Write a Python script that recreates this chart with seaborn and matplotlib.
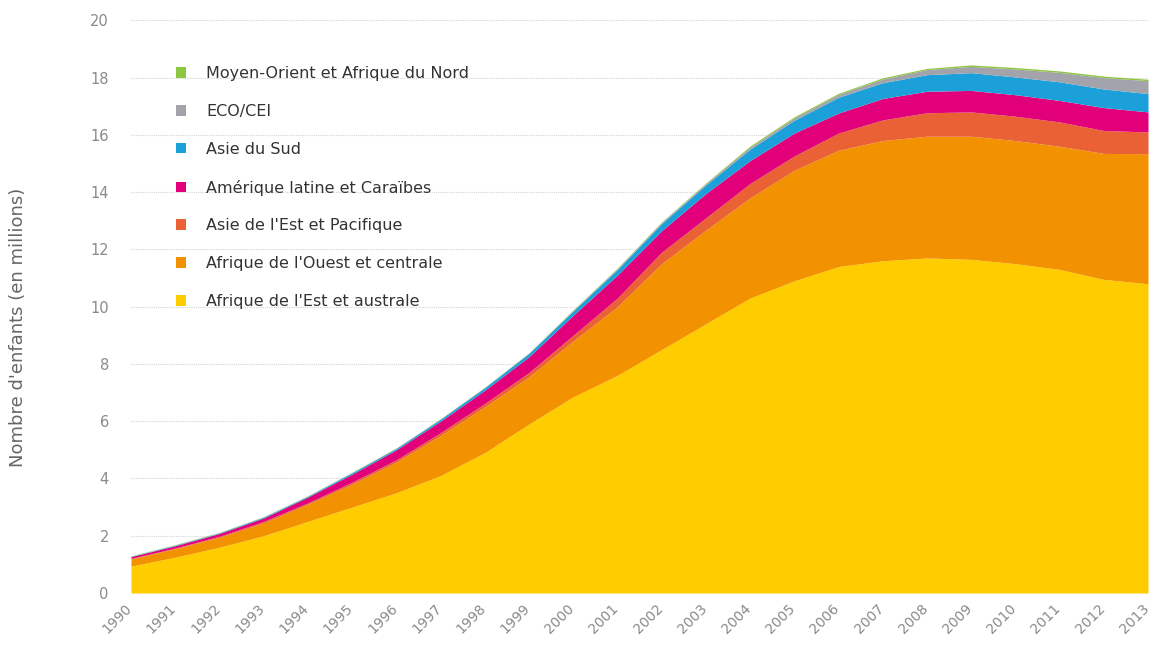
import matplotlib
matplotlib.use("Agg")
import matplotlib.pyplot as plt
import matplotlib.transforms as mtransforms
from matplotlib.patches import Patch
import seaborn as sns
import pandas as pd

years = list(range(1990, 2014))

est_australe = [0.94, 1.25, 1.6, 2.0, 2.5, 3.0, 3.5, 4.1, 4.9, 5.9, 6.85, 7.6,
                8.5, 9.4, 10.3, 10.9, 11.4, 11.6, 11.7, 11.65, 11.5, 11.3, 10.95, 10.8]
ouest_centrale = [0.25, 0.30, 0.35, 0.45, 0.6, 0.8, 1.07, 1.4, 1.6, 1.65, 1.95, 2.4,
                  3.0, 3.27, 3.5, 3.86, 4.06, 4.2, 4.25, 4.3, 4.3, 4.3, 4.4, 4.54]
asie_est = [0.02, 0.02, 0.03, 0.05, 0.05, 0.07, 0.08, 0.1, 0.12, 0.15, 0.2, 0.3,
            0.4, 0.43, 0.5, 0.5, 0.6, 0.72, 0.82, 0.85, 0.85, 0.85, 0.8, 0.76]
amerique_latine = [0.06, 0.08, 0.1, 0.12, 0.2, 0.28, 0.35, 0.4, 0.46, 0.55, 0.7, 0.8,
                   0.75, 0.85, 0.8, 0.8, 0.7, 0.75, 0.75, 0.75, 0.75, 0.75, 0.8, 0.7]
asie_sud = [0.01, 0.02, 0.02, 0.03, 0.03, 0.05, 0.05, 0.07, 0.09, 0.12, 0.15, 0.2,
            0.25, 0.3, 0.4, 0.45, 0.55, 0.55, 0.58, 0.62, 0.62, 0.65, 0.65, 0.64]
eco_cei = [0.01, 0.01, 0.01, 0.01, 0.01, 0.01, 0.01, 0.01, 0.01, 0.01, 0.02, 0.03,
           0.04, 0.05, 0.07, 0.08, 0.1, 0.13, 0.18, 0.22, 0.28, 0.33, 0.4, 0.45]
moyen_orient = [0.01, 0.01, 0.01, 0.01, 0.01, 0.01, 0.01, 0.01, 0.01, 0.01, 0.02, 0.02,
                0.02, 0.02, 0.04, 0.04, 0.04, 0.04, 0.04, 0.05, 0.05, 0.05, 0.05, 0.05]

labels = ["Afrique de l'Est et australe", "Afrique de l'Ouest et centrale",
          "Asie de l'Est et Pacifique", "Amérique latine et Caraïbes",
          "Asie du Sud", "ECO/CEI", "Moyen-Orient et Afrique du Nord"]
colors = ["#FFCC00", "#F39200", "#EA6135", "#E2007A", "#1CA0DA", "#A3A3AB", "#8DC63F"]

yticks = list(range(0, 21, 2))

df = pd.DataFrame({"year": years,
                   labels[0]: est_australe, labels[1]: ouest_centrale,
                   labels[2]: asie_est, labels[3]: amerique_latine,
                   labels[4]: asie_sud, labels[5]: eco_cei, labels[6]: moyen_orient})

sns.set_theme(style="white")
plt.rcParams['font.family'] = ['DejaVu Sans']

fig = plt.figure(figsize=(11.51, 6.45), dpi=100)
ax = fig.add_axes([0.1138, 0.0806, 0.8836, 0.888])

ax.stackplot(df["year"], [df[l] for l in labels], colors=colors, linewidth=0)

ax.set_xlim(1990, 2013)
ax.set_ylim(0, 20)
ax.set_yticks(yticks)
ax.set_yticklabels([str(t) for t in yticks])
ax.set_xticks(years)
ax.set_xticklabels([str(y) for y in years], rotation=45, ha="right", va="top",
                   rotation_mode="anchor")
ax.tick_params(axis="y", colors="#8a8a8a", labelsize=10.5, length=0, pad=16)
ax.tick_params(axis="x", colors="#8a8a8a", labelsize=10, length=0, pad=6)
offset = mtransforms.ScaledTranslation(-6 / 100, 0, fig.dpi_scale_trans)
for lab in ax.get_xticklabels():
    lab.set_transform(lab.get_transform() + offset)
for s in ax.spines.values():
    s.set_visible(False)
ax.grid(axis="y", color="#d4d4d4", linestyle=(0, (1, 1)), linewidth=0.8)
ax.set_axisbelow(True)

ax.set_ylabel("Nombre d'enfants (en millions)", fontsize=13, color="#666666")
ax.yaxis.set_label_coords(-0.102, 0.464)

handles = [Patch(facecolor=c, edgecolor="none") for c in colors][::-1]
leg = ax.legend(handles, labels[::-1], loc="upper left",
                bbox_to_anchor=(0.044, 0.92), frameon=False, borderpad=0,
                borderaxespad=0, handlelength=0.65, handleheight=0.65,
                handletextpad=1.25, labelspacing=1.43, fontsize=11.5)
for t in leg.get_texts():
    t.set_color("#333333")

fig.savefig("out.png", dpi=100)
